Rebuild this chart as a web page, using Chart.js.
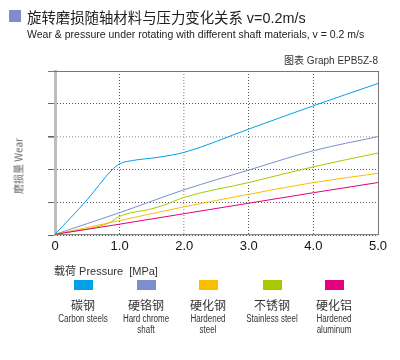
<!DOCTYPE html>
<html><head><meta charset="utf-8">
<script src="https://cdn.jsdelivr.net/npm/chart.js@4/dist/chart.umd.min.js"></script>
<style>
html,body{margin:0;padding:0;background:#fff;}
#wrap{position:relative;width:400px;height:360px;overflow:hidden;font-family:"Liberation Sans","Noto Sans CJK SC",sans-serif;color:#222;}
#c{position:absolute;left:0;top:0;}
.t{position:absolute;white-space:nowrap;}
.lg{position:absolute;top:280px;width:80px;margin-left:-40px;text-align:center;}
.lg .box{width:19px;height:10px;margin:0 auto;}
.lg .cn{font-size:12px;margin-top:8px;line-height:14px;font-family:"Noto Sans CJK SC",sans-serif;color:#333;}
.lg .en{font-size:10px;line-height:11px;margin-top:1px;color:#333;transform:scaleX(0.8);transform-origin:50% 0;}
</style></head>
<body><div id="wrap">
<canvas id="c" width="400" height="360"></canvas>
<div class="t" style="left:9px;top:10px;width:12px;height:12px;background:#7b8fcf"></div>
<div class="t" id="title" style="left:27px;top:6px;font-size:14.4px;color:#222;">旋转磨损随轴材料与压力变化关系 v=0.2m/s</div>
<div class="t" id="sub" style="left:27px;top:28px;font-size:10.5px;color:#222;">Wear &amp; pressure under rotating with different shaft materials, v = 0.2 m/s</div>
<div class="t" id="gid" style="right:22px;top:52px;font-size:10px;color:#333;">图表 Graph EPB5Z-8</div>
<div class="t" id="ytitle" style="left:18px;top:166px;font-size:10px;color:#666;font-family:'Noto Sans CJK SC',sans-serif;transform:translate(-50%,-50%) rotate(-90deg);">磨损量 Wear</div>
<div class="t" id="xtitle" style="left:54px;top:262px;font-size:11px;color:#333;">载荷 Pressure&nbsp; [MPa]</div>
<div id="legend"></div>
</div>
<script>
const seriesNamesCn = ["碳钢","硬铬钢","硬化钢","不锈钢","硬化铝"];
const seriesNamesEn = ["Carbon steels","Hard chrome<br>shaft","Hardened<br>steel","Stainless steel","Hardened<br>aluminum"];
const seriesColors = ["#00a0e9","#7b8fcf","#fabe00","#a8c800","#e4007f"];
const xTicks = [0,1,2,3,4,5];

const carbonX = [0,0.5,0.88,1.0,1.2,1.6,2.0,3.0,4.0,5.0];
const carbonY = [0.02,1.08,1.98,2.17,2.27,2.37,2.52,3.23,3.94,4.62];
const chromeX = [0,1.0,2.0,3.0,4.0,5.0];
const chromeY = [0.02,0.68,1.38,1.98,2.57,3.0];
const hardenedX = [0,1.0,2.0,3.0,4.0,5.0];
const hardenedY = [0.02,0.44,0.86,1.24,1.6,1.88];
const stainlessX = [0,0.85,1.0,1.5,1.7,2.0,3.0,4.0,5.0];
const stainlessY = [0.02,0.38,0.57,0.8,0.92,1.15,1.6,2.08,2.5];
const aluminumX = [0,1.0,2.0,3.0,4.0,5.0];
const aluminumY = [0.02,0.33,0.65,0.97,1.29,1.6];

const xs = [carbonX,chromeX,hardenedX,stainlessX,aluminumX];
const ys = [carbonY,chromeY,hardenedY,stainlessY,aluminumY];
const order = [4,2,3,1,0];

const datasets = order.map(i=>({
  label: seriesNamesCn[i],
  data: xs[i].map((x,k)=>({x:x,y:ys[i][k]})),
  borderColor: seriesColors[i],
  borderWidth: 1,
  pointRadius: 0,
  cubicInterpolationMode: 'monotone',
  fill:false
}));

// legend
const lg = document.getElementById('legend');
const centers = [83,146,208,272,334];
seriesNamesCn.forEach((n,i)=>{
  const d = document.createElement('div');
  d.className='lg'; d.style.left=centers[i]+'px';
  d.innerHTML = '<div class="box" style="background:'+seriesColors[i]+'"></div><div class="cn">'+n+'</div><div class="en">'+seriesNamesEn[i]+'</div>';
  lg.appendChild(d);
});

const framePlugin = {
  id:'frame',
  afterDraw(chart){
    const {ctx, chartArea:a} = chart;
    ctx.save();
    ctx.strokeStyle='#777'; ctx.lineWidth=1;
    ctx.beginPath();
    ctx.moveTo(a.left-7, a.top+0.5); ctx.lineTo(a.right+0.5, a.top+0.5);
    ctx.lineTo(a.right+0.5, a.bottom);
    ctx.stroke();
    ctx.restore();
  }
};

new Chart(document.getElementById('c'),{
  type:'line',
  data:{datasets},
  options:{
    responsive:false, animation:false,
    layout:{padding:{left:48,top:71,right:22,bottom:105}},
    plugins:{legend:{display:false},tooltip:{enabled:false}},
    scales:{
      x:{type:'linear',min:0,max:5,
        afterBuildTicks(s){s.ticks = xTicks.map(v=>({value:v}));},
        afterFit(s){s.height=20;},
        ticks:{padding:4,color:'#111',font:{size:13,family:'"Liberation Sans", Arial'},
          callback:v=> v===0?'0':v.toFixed(1), maxRotation:0},
        grid:{drawTicks:false,
          color:c=> c.tick && c.tick.value===2 ? '#b0b0b0' : '#555',
          lineWidth:c=> c.tick && c.tick.value===2 ? 1.6 : 1},
        border:{display:true,color:'#888',width:1.2,dash:[1,2]}
      },
      y:{type:'linear',min:0,max:5,
        afterBuildTicks(s){s.ticks = [0,1,2,3,4,5].map(v=>({value:v}));},
        afterFit(s){s.width=7;},
        ticks:{display:false},
        grid:{drawTicks:true,tickLength:7,tickColor:'#666',tickBorderDash:[],
          color:c=> c.tick && c.tick.value===3 ? '#b0b0b0' : '#555',
          lineWidth:c=> c.tick && c.tick.value===3 ? 1.6 : 1},
        border:{display:true,color:'#bdbdbd',width:3,dash:[1,2]}
      }
    }
  },
  plugins:[framePlugin]
});
</script>
</body></html>
